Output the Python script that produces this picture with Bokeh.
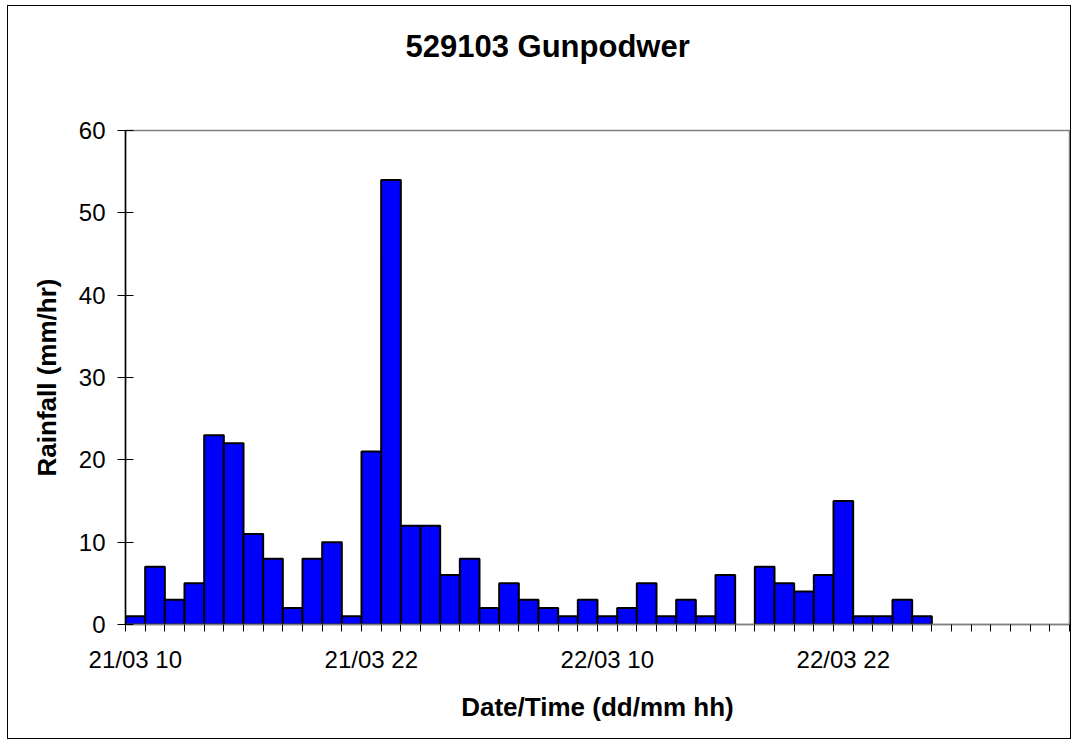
from bokeh.plotting import figure
from bokeh.models import Range1d, FixedTicker, ColumnDataSource, CDSView, BooleanFilter, Title
from bokeh.embed import file_html
from bokeh.resources import INLINE

# ---- data ----
hours = [
    "21/03 10", "21/03 11", "21/03 12", "21/03 13", "21/03 14", "21/03 15", "21/03 16",
    "21/03 17", "21/03 18", "21/03 19", "21/03 20", "21/03 21", "21/03 22", "21/03 23",
    "22/03 00", "22/03 01", "22/03 02", "22/03 03", "22/03 04", "22/03 05", "22/03 06",
    "22/03 07", "22/03 08", "22/03 09", "22/03 10", "22/03 11", "22/03 12", "22/03 13",
    "22/03 14", "22/03 15", "22/03 16", "22/03 17", "22/03 18", "22/03 19", "22/03 20",
    "22/03 21", "22/03 22", "22/03 23", "23/03 00", "23/03 01", "23/03 02", "23/03 03",
    "23/03 04", "23/03 05", "23/03 06", "23/03 07", "23/03 08", "23/03 09",
]
rainfall = [1, 7, 3, 5, 23, 22, 11, 8, 2, 8,
            10, 1, 21, 54, 12, 12, 6, 8, 2, 5,
            3, 2, 1, 3, 1, 2, 5, 1, 3, 1,
            6, 0, 7, 5, 4, 6, 15, 1, 1, 3,
            1, 0, 0, 0, 0, 0, 0, 0]
labelled_hours = ["21/03 10", "21/03 22", "22/03 10", "22/03 22"]
y_ticks = [0, 10, 20, 30, 40, 50, 60]
title_text = "529103 Gunpodwer"

FONT = "Liberation Sans"

idx = list(range(len(hours)))
centers = [i + 0.5 for i in idx]
src = ColumnDataSource(dict(x=centers, top=rainfall, hour=hours))
view = CDSView(filter=BooleanFilter([v > 0 for v in rainfall]))

p = figure(width=1064, height=734, output_backend="svg", toolbar_location=None,
           x_range=Range1d(0, len(hours)), y_range=Range1d(0, 60),
           min_border_left=117, min_border_top=124, min_border_right=3,
           min_border_bottom=116)
p.styles = {"border": "1px solid #000000", "margin-left": "7px", "margin-top": "5px"}

p.vbar(x="x", top="top", bottom=0, width=1, source=src, view=view,
       fill_color="#0000FF", line_color="#000000", line_width=2)

# spacer (nearest the frame) then the chart title further out
spacer = Title(text=" ", text_font=FONT, text_font_size="10px", standoff=35)
p.add_layout(spacer, "above")
main_title = Title(text=title_text, align="left", offset=280, standoff=38,
                   text_font=FONT, text_font_size="31px", text_font_style="bold",
                   text_color="#000000")
p.add_layout(main_title, "above")

p.xgrid.visible = False
p.ygrid.visible = False
p.outline_line_color = "#808080"
p.outline_line_width = 1.5
p.background_fill_color = "#FFFFFF"
p.border_fill_color = "#FFFFFF"

# x axis
label_pos = [hours.index(h) + 0.5 for h in labelled_hours]
xax = p.xaxis[0]
xax.ticker = FixedTicker(ticks=label_pos, minor_ticks=[float(i) for i in range(len(hours) + 1)])
xax.major_label_overrides = {pos: h for pos, h in zip(label_pos, labelled_hours)}
xax.major_tick_line_color = None
xax.minor_tick_line_color = "#000000"
xax.minor_tick_line_width = 1
xax.minor_tick_out = 7
xax.minor_tick_in = 0
xax.axis_line_color = "#808080"
xax.axis_line_width = 1.5
xax.major_label_text_font = FONT
xax.major_label_text_font_size = "24px"
xax.major_label_text_color = "#000000"
xax.major_label_standoff = 14
xax.axis_label = "Date/Time (dd/mm hh)"
xax.axis_label_text_font = FONT
xax.axis_label_text_font_size = "26px"
xax.axis_label_text_font_style = "bold"
xax.axis_label_text_color = "#000000"
xax.axis_label_standoff = 16

# y axis
yax = p.yaxis[0]
yax.ticker = FixedTicker(ticks=y_ticks, minor_ticks=[])
yax.axis_line_color = "#000000"
yax.axis_line_width = 1.5
yax.major_tick_line_color = "#000000"
yax.major_tick_in = 8
yax.major_tick_out = 8
yax.minor_tick_line_color = None
yax.major_label_text_font = FONT
yax.major_label_text_font_size = "24px"
yax.major_label_text_color = "#000000"
yax.major_label_standoff = 12
yax.axis_label = "Rainfall (mm/hr)"
yax.axis_label_text_font = FONT
yax.axis_label_text_font_size = "26px"
yax.axis_label_text_font_style = "bold"
yax.axis_label_text_color = "#000000"
yax.axis_label_standoff = 14

open("out.html", "w").write(file_html(p, INLINE))
